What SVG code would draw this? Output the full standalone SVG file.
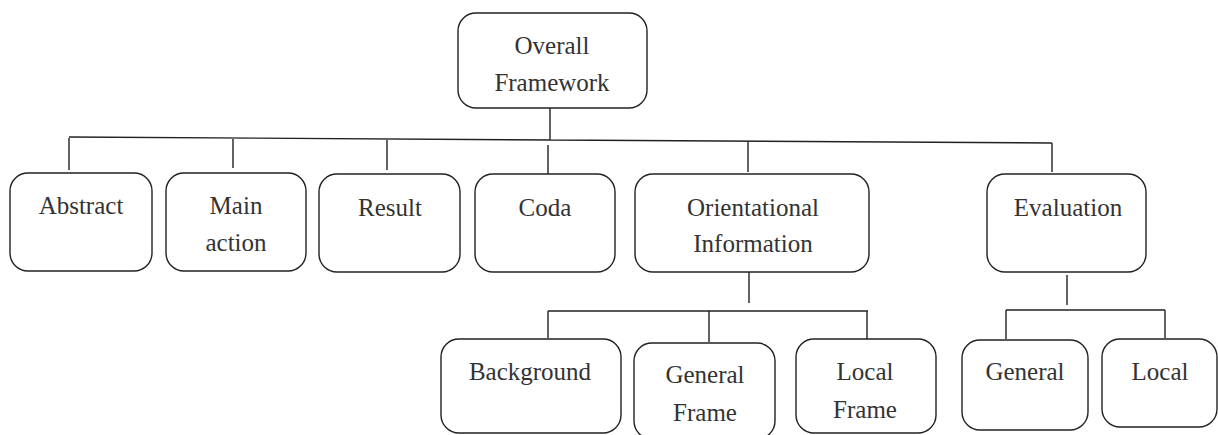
<svg xmlns="http://www.w3.org/2000/svg" width="1218" height="435" viewBox="0 0 1218 435">
<style>
.box{fill:#fff;stroke:#222;stroke-width:1.4}
text{font-family:'Liberation Serif','Times New Roman',serif;font-size:25px;fill:#333;text-anchor:middle}
.c{stroke:#222;stroke-width:1.4;fill:none}
</style>
<rect width="1218" height="435" fill="#fff"/>
<g id="connectors">
<path class="c" d="M550 108V140M69 137L1052 143M69 138V170M233 139V168M387 140V170M548 145V174M748 141V172M1052 143V172"/>
<path class="c" d="M749 272V303M548 311H868M548 311V338M709 311V342M867 311V339"/>
<path class="c" d="M1067 275V305M1006 310H1165M1006 310V339M1165 310V338"/>
</g>
<g id="overall"><rect class="box" x="458" y="13" width="189" height="95" rx="18"/><text x="552" y="54">Overall</text><text x="552" y="91">Framework</text></g>
<g id="abstract"><rect class="box" x="10" y="173" width="142" height="98" rx="18"/><text x="81" y="214">Abstract</text></g>
<g id="main-action"><rect class="box" x="166" y="173" width="140" height="98" rx="18"/><text x="236" y="214">Main</text><text x="236" y="251">action</text></g>
<g id="result"><rect class="box" x="319" y="174" width="141" height="98" rx="18"/><text x="390" y="216">Result</text></g>
<g id="coda"><rect class="box" x="475" y="174" width="140" height="98" rx="18"/><text x="545" y="216">Coda</text></g>
<g id="orientational"><rect class="box" x="635" y="174" width="234" height="98" rx="18"/><text x="753" y="216">Orientational</text><text x="753" y="252">Information</text></g>
<g id="evaluation"><rect class="box" x="987" y="174" width="159" height="98" rx="18"/><text x="1068" y="216">Evaluation</text></g>
<g id="background"><rect class="box" x="441" y="339" width="180" height="94" rx="18"/><text x="530" y="380">Background</text></g>
<g id="general-frame"><rect class="box" x="634" y="343" width="141" height="96" rx="18"/><text x="705" y="383">General</text><text x="705" y="421">Frame</text></g>
<g id="local-frame"><rect class="box" x="796" y="339" width="140" height="94" rx="18"/><text x="865" y="380">Local</text><text x="865" y="418">Frame</text></g>
<g id="general"><rect class="box" x="962" y="340" width="126" height="90" rx="18"/><text x="1025" y="380">General</text></g>
<g id="local"><rect class="box" x="1102" y="339" width="115" height="88" rx="18"/><text x="1160" y="380">Local</text></g>
</svg>
